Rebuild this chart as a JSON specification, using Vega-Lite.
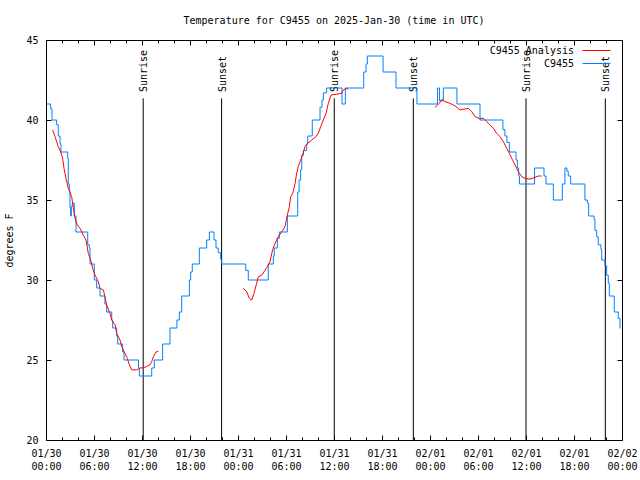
{
  "$schema": "https://vega.github.io/schema/vega-lite/v6.json",
  "width": 576,
  "height": 400,
  "autosize": {"type": "none"},
  "padding": {"left": 46, "top": 40, "right": 18, "bottom": 40},
  "background": "white",
  "title": {"text": "Temperature for C9455 on 2025-Jan-30 (time in UTC)", "font": "DejaVu Sans Mono", "fontSize": 10, "fontWeight": "normal", "color": "black", "anchor": "middle", "frame": "group", "offset": 9},
  "datasets": {
    "obs": [
      {"t": "2025-01-30T00:07:00Z", "temp": 41},
      {"t": "2025-01-30T00:35:00Z", "temp": 40.7},
      {"t": "2025-01-30T00:45:00Z", "temp": 40},
      {"t": "2025-01-30T01:20:00Z", "temp": 39.7},
      {"t": "2025-01-30T01:32:00Z", "temp": 39},
      {"t": "2025-01-30T01:45:00Z", "temp": 38.5},
      {"t": "2025-01-30T01:52:00Z", "temp": 38},
      {"t": "2025-01-30T02:43:00Z", "temp": 37.6},
      {"t": "2025-01-30T02:47:00Z", "temp": 36},
      {"t": "2025-01-30T02:55:00Z", "temp": 35.6},
      {"t": "2025-01-30T03:00:00Z", "temp": 34.5},
      {"t": "2025-01-30T03:05:00Z", "temp": 34},
      {"t": "2025-01-30T03:10:00Z", "temp": 34.6},
      {"t": "2025-01-30T03:17:00Z", "temp": 34.8},
      {"t": "2025-01-30T03:32:00Z", "temp": 34},
      {"t": "2025-01-30T03:45:00Z", "temp": 33},
      {"t": "2025-01-30T05:13:00Z", "temp": 32.2},
      {"t": "2025-01-30T05:25:00Z", "temp": 32},
      {"t": "2025-01-30T05:30:00Z", "temp": 31},
      {"t": "2025-01-30T06:02:00Z", "temp": 30},
      {"t": "2025-01-30T06:20:00Z", "temp": 29.5},
      {"t": "2025-01-30T06:45:00Z", "temp": 29},
      {"t": "2025-01-30T07:22:00Z", "temp": 28.5},
      {"t": "2025-01-30T07:35:00Z", "temp": 28},
      {"t": "2025-01-30T08:13:00Z", "temp": 27.5},
      {"t": "2025-01-30T08:20:00Z", "temp": 27},
      {"t": "2025-01-30T08:50:00Z", "temp": 26.5},
      {"t": "2025-01-30T08:58:00Z", "temp": 26},
      {"t": "2025-01-30T09:35:00Z", "temp": 25.5},
      {"t": "2025-01-30T09:45:00Z", "temp": 25},
      {"t": "2025-01-30T11:34:00Z", "temp": 24.5},
      {"t": "2025-01-30T11:40:00Z", "temp": 24},
      {"t": "2025-01-30T13:13:00Z", "temp": 24.5},
      {"t": "2025-01-30T13:32:00Z", "temp": 25},
      {"t": "2025-01-30T14:35:00Z", "temp": 26},
      {"t": "2025-01-30T15:30:00Z", "temp": 27},
      {"t": "2025-01-30T16:22:00Z", "temp": 27.5},
      {"t": "2025-01-30T16:40:00Z", "temp": 28},
      {"t": "2025-01-30T16:58:00Z", "temp": 29},
      {"t": "2025-01-30T17:55:00Z", "temp": 30},
      {"t": "2025-01-30T18:05:00Z", "temp": 30.5},
      {"t": "2025-01-30T18:17:00Z", "temp": 31},
      {"t": "2025-01-30T19:10:00Z", "temp": 32},
      {"t": "2025-01-30T20:05:00Z", "temp": 32.5},
      {"t": "2025-01-30T20:25:00Z", "temp": 33},
      {"t": "2025-01-30T21:00:00Z", "temp": 32.5},
      {"t": "2025-01-30T21:15:00Z", "temp": 32},
      {"t": "2025-01-30T21:32:00Z", "temp": 31.7},
      {"t": "2025-01-30T21:50:00Z", "temp": 31.3},
      {"t": "2025-01-30T21:58:00Z", "temp": 31},
      {"t": "2025-01-31T00:58:00Z", "temp": 30.6},
      {"t": "2025-01-31T01:17:00Z", "temp": 30},
      {"t": "2025-01-31T03:47:00Z", "temp": 31},
      {"t": "2025-01-31T04:25:00Z", "temp": 31.5},
      {"t": "2025-01-31T04:32:00Z", "temp": 32},
      {"t": "2025-01-31T04:55:00Z", "temp": 32.6},
      {"t": "2025-01-31T05:10:00Z", "temp": 33},
      {"t": "2025-01-31T06:10:00Z", "temp": 34},
      {"t": "2025-01-31T07:28:00Z", "temp": 35.5},
      {"t": "2025-01-31T07:38:00Z", "temp": 36.25},
      {"t": "2025-01-31T07:50:00Z", "temp": 36.9},
      {"t": "2025-01-31T07:58:00Z", "temp": 37.8},
      {"t": "2025-01-31T08:10:00Z", "temp": 38.1},
      {"t": "2025-01-31T08:35:00Z", "temp": 38.5},
      {"t": "2025-01-31T08:43:00Z", "temp": 39},
      {"t": "2025-01-31T09:17:00Z", "temp": 40},
      {"t": "2025-01-31T10:15:00Z", "temp": 40.8},
      {"t": "2025-01-31T10:30:00Z", "temp": 41.25},
      {"t": "2025-01-31T10:40:00Z", "temp": 41.7},
      {"t": "2025-01-31T11:05:00Z", "temp": 42},
      {"t": "2025-01-31T13:00:00Z", "temp": 41},
      {"t": "2025-01-31T13:25:00Z", "temp": 42},
      {"t": "2025-01-31T15:43:00Z", "temp": 43},
      {"t": "2025-01-31T16:00:00Z", "temp": 43.5},
      {"t": "2025-01-31T16:10:00Z", "temp": 44},
      {"t": "2025-01-31T18:08:00Z", "temp": 43},
      {"t": "2025-01-31T19:45:00Z", "temp": 42},
      {"t": "2025-01-31T22:22:00Z", "temp": 41},
      {"t": "2025-02-01T00:56:00Z", "temp": 42},
      {"t": "2025-02-01T01:11:00Z", "temp": 41.2},
      {"t": "2025-02-01T01:40:00Z", "temp": 42},
      {"t": "2025-02-01T03:22:00Z", "temp": 41},
      {"t": "2025-02-01T06:15:00Z", "temp": 40},
      {"t": "2025-02-01T09:07:00Z", "temp": 39.4},
      {"t": "2025-02-01T09:22:00Z", "temp": 39},
      {"t": "2025-02-01T09:37:00Z", "temp": 38.6},
      {"t": "2025-02-01T09:55:00Z", "temp": 38},
      {"t": "2025-02-01T10:45:00Z", "temp": 37.5},
      {"t": "2025-02-01T10:55:00Z", "temp": 37},
      {"t": "2025-02-01T11:05:00Z", "temp": 36.5},
      {"t": "2025-02-01T11:11:00Z", "temp": 36},
      {"t": "2025-02-01T13:04:00Z", "temp": 37},
      {"t": "2025-02-01T14:15:00Z", "temp": 36.5},
      {"t": "2025-02-01T14:30:00Z", "temp": 36},
      {"t": "2025-02-01T15:25:00Z", "temp": 35},
      {"t": "2025-02-01T16:32:00Z", "temp": 36},
      {"t": "2025-02-01T16:52:00Z", "temp": 37},
      {"t": "2025-02-01T17:07:00Z", "temp": 36.8},
      {"t": "2025-02-01T17:17:00Z", "temp": 36.5},
      {"t": "2025-02-01T17:35:00Z", "temp": 36},
      {"t": "2025-02-01T19:22:00Z", "temp": 35},
      {"t": "2025-02-01T19:40:00Z", "temp": 34.8},
      {"t": "2025-02-01T19:50:00Z", "temp": 34},
      {"t": "2025-02-01T20:30:00Z", "temp": 33.8},
      {"t": "2025-02-01T20:37:00Z", "temp": 33.1},
      {"t": "2025-02-01T20:50:00Z", "temp": 32.7},
      {"t": "2025-02-01T21:02:00Z", "temp": 32.2},
      {"t": "2025-02-01T21:22:00Z", "temp": 31.9},
      {"t": "2025-02-01T21:28:00Z", "temp": 31.25},
      {"t": "2025-02-01T21:52:00Z", "temp": 30.9},
      {"t": "2025-02-01T22:05:00Z", "temp": 30.3},
      {"t": "2025-02-01T22:17:00Z", "temp": 29.8},
      {"t": "2025-02-01T22:25:00Z", "temp": 29},
      {"t": "2025-02-01T23:02:00Z", "temp": 28},
      {"t": "2025-02-01T23:32:00Z", "temp": 27.6},
      {"t": "2025-02-01T23:45:00Z", "temp": 27},
      {"t": "2025-02-01T23:52:00Z", "temp": 27}
    ],
    "analysis": [
      {"seg": 1, "t": "2025-01-30T00:50:00Z", "temp": 39.38},
      {"seg": 1, "t": "2025-01-30T01:08:00Z", "temp": 38.96},
      {"seg": 1, "t": "2025-01-30T01:32:00Z", "temp": 38.33},
      {"seg": 1, "t": "2025-01-30T01:50:00Z", "temp": 38.0},
      {"seg": 1, "t": "2025-01-30T02:05:00Z", "temp": 37.6},
      {"seg": 1, "t": "2025-01-30T02:15:00Z", "temp": 36.98},
      {"seg": 1, "t": "2025-01-30T02:30:00Z", "temp": 36.35},
      {"seg": 1, "t": "2025-01-30T02:47:00Z", "temp": 35.73},
      {"seg": 1, "t": "2025-01-30T03:13:00Z", "temp": 35.2},
      {"seg": 1, "t": "2025-01-30T03:20:00Z", "temp": 34.8},
      {"seg": 1, "t": "2025-01-30T03:38:00Z", "temp": 33.85},
      {"seg": 1, "t": "2025-01-30T03:55:00Z", "temp": 33.44},
      {"seg": 1, "t": "2025-01-30T04:15:00Z", "temp": 33.23},
      {"seg": 1, "t": "2025-01-30T04:40:00Z", "temp": 32.8},
      {"seg": 1, "t": "2025-01-30T05:00:00Z", "temp": 32.5},
      {"seg": 1, "t": "2025-01-30T05:17:00Z", "temp": 31.67},
      {"seg": 1, "t": "2025-01-30T05:35:00Z", "temp": 31.25},
      {"seg": 1, "t": "2025-01-30T05:50:00Z", "temp": 30.73},
      {"seg": 1, "t": "2025-01-30T06:08:00Z", "temp": 30.3},
      {"seg": 1, "t": "2025-01-30T06:32:00Z", "temp": 29.9},
      {"seg": 1, "t": "2025-01-30T06:45:00Z", "temp": 29.48},
      {"seg": 1, "t": "2025-01-30T07:10:00Z", "temp": 29.38},
      {"seg": 1, "t": "2025-01-30T07:22:00Z", "temp": 28.96},
      {"seg": 1, "t": "2025-01-30T07:35:00Z", "temp": 28.44},
      {"seg": 1, "t": "2025-01-30T08:00:00Z", "temp": 27.9},
      {"seg": 1, "t": "2025-01-30T08:13:00Z", "temp": 27.5},
      {"seg": 1, "t": "2025-01-30T08:38:00Z", "temp": 27.2},
      {"seg": 1, "t": "2025-01-30T08:50:00Z", "temp": 26.67},
      {"seg": 1, "t": "2025-01-30T09:15:00Z", "temp": 26.25},
      {"seg": 1, "t": "2025-01-30T09:28:00Z", "temp": 25.83},
      {"seg": 1, "t": "2025-01-30T09:52:00Z", "temp": 25.42},
      {"seg": 1, "t": "2025-01-30T10:10:00Z", "temp": 25.1},
      {"seg": 1, "t": "2025-01-30T10:25:00Z", "temp": 24.7},
      {"seg": 1, "t": "2025-01-30T10:43:00Z", "temp": 24.38},
      {"seg": 1, "t": "2025-01-30T11:20:00Z", "temp": 24.38},
      {"seg": 1, "t": "2025-01-30T11:45:00Z", "temp": 24.5},
      {"seg": 1, "t": "2025-01-30T12:15:00Z", "temp": 24.52},
      {"seg": 1, "t": "2025-01-30T12:35:00Z", "temp": 24.6},
      {"seg": 1, "t": "2025-01-30T13:00:00Z", "temp": 24.7},
      {"seg": 1, "t": "2025-01-30T13:13:00Z", "temp": 24.9},
      {"seg": 1, "t": "2025-01-30T13:25:00Z", "temp": 25.2},
      {"seg": 1, "t": "2025-01-30T13:45:00Z", "temp": 25.5},
      {"seg": 1, "t": "2025-01-30T14:02:00Z", "temp": 25.55},
      {"seg": 2, "t": "2025-01-31T00:40:00Z", "temp": 29.48},
      {"seg": 2, "t": "2025-01-31T01:05:00Z", "temp": 29.27},
      {"seg": 2, "t": "2025-01-31T01:25:00Z", "temp": 28.85},
      {"seg": 2, "t": "2025-01-31T01:43:00Z", "temp": 28.75},
      {"seg": 2, "t": "2025-01-31T02:00:00Z", "temp": 29.17},
      {"seg": 2, "t": "2025-01-31T02:20:00Z", "temp": 29.8},
      {"seg": 2, "t": "2025-01-31T02:32:00Z", "temp": 30.2},
      {"seg": 2, "t": "2025-01-31T02:58:00Z", "temp": 30.3},
      {"seg": 2, "t": "2025-01-31T03:22:00Z", "temp": 30.6},
      {"seg": 2, "t": "2025-01-31T03:40:00Z", "temp": 30.83},
      {"seg": 2, "t": "2025-01-31T04:00:00Z", "temp": 31.15},
      {"seg": 2, "t": "2025-01-31T04:20:00Z", "temp": 31.9},
      {"seg": 2, "t": "2025-01-31T04:38:00Z", "temp": 32.3},
      {"seg": 2, "t": "2025-01-31T05:02:00Z", "temp": 32.7},
      {"seg": 2, "t": "2025-01-31T05:35:00Z", "temp": 33.1},
      {"seg": 2, "t": "2025-01-31T05:52:00Z", "temp": 33.33},
      {"seg": 2, "t": "2025-01-31T06:10:00Z", "temp": 34.06},
      {"seg": 2, "t": "2025-01-31T06:25:00Z", "temp": 34.58},
      {"seg": 2, "t": "2025-01-31T06:35:00Z", "temp": 35.2},
      {"seg": 2, "t": "2025-01-31T06:50:00Z", "temp": 35.4},
      {"seg": 2, "t": "2025-01-31T07:08:00Z", "temp": 36.04},
      {"seg": 2, "t": "2025-01-31T07:20:00Z", "temp": 36.67},
      {"seg": 2, "t": "2025-01-31T07:32:00Z", "temp": 37.08},
      {"seg": 2, "t": "2025-01-31T07:45:00Z", "temp": 37.4},
      {"seg": 2, "t": "2025-01-31T08:05:00Z", "temp": 37.8},
      {"seg": 2, "t": "2025-01-31T08:22:00Z", "temp": 38.33},
      {"seg": 2, "t": "2025-01-31T08:40:00Z", "temp": 38.54},
      {"seg": 2, "t": "2025-01-31T09:13:00Z", "temp": 38.75},
      {"seg": 2, "t": "2025-01-31T09:45:00Z", "temp": 38.96},
      {"seg": 2, "t": "2025-01-31T10:02:00Z", "temp": 39.17},
      {"seg": 2, "t": "2025-01-31T10:20:00Z", "temp": 39.58},
      {"seg": 2, "t": "2025-01-31T10:40:00Z", "temp": 40.0},
      {"seg": 2, "t": "2025-01-31T11:00:00Z", "temp": 40.4},
      {"seg": 2, "t": "2025-01-31T11:17:00Z", "temp": 41.04},
      {"seg": 2, "t": "2025-01-31T11:38:00Z", "temp": 41.56},
      {"seg": 2, "t": "2025-01-31T12:58:00Z", "temp": 41.67},
      {"seg": 2, "t": "2025-01-31T13:10:00Z", "temp": 41.88},
      {"seg": 2, "t": "2025-01-31T13:35:00Z", "temp": 41.98},
      {"seg": 2, "t": "2025-01-31T13:47:00Z", "temp": 41.9},
      {"seg": 3, "t": "2025-02-01T00:38:00Z", "temp": 40.79},
      {"seg": 3, "t": "2025-02-01T01:10:00Z", "temp": 41.04},
      {"seg": 3, "t": "2025-02-01T01:28:00Z", "temp": 41.29},
      {"seg": 3, "t": "2025-02-01T01:52:00Z", "temp": 41.15},
      {"seg": 3, "t": "2025-02-01T02:30:00Z", "temp": 41.04},
      {"seg": 3, "t": "2025-02-01T03:08:00Z", "temp": 40.88},
      {"seg": 3, "t": "2025-02-01T03:45:00Z", "temp": 40.63},
      {"seg": 3, "t": "2025-02-01T04:10:00Z", "temp": 40.67},
      {"seg": 3, "t": "2025-02-01T04:47:00Z", "temp": 40.73},
      {"seg": 3, "t": "2025-02-01T05:13:00Z", "temp": 40.52},
      {"seg": 3, "t": "2025-02-01T05:38:00Z", "temp": 40.21},
      {"seg": 3, "t": "2025-02-01T06:10:00Z", "temp": 40.1},
      {"seg": 3, "t": "2025-02-01T06:40:00Z", "temp": 40.1},
      {"seg": 3, "t": "2025-02-01T07:05:00Z", "temp": 39.9},
      {"seg": 3, "t": "2025-02-01T07:30:00Z", "temp": 39.69},
      {"seg": 3, "t": "2025-02-01T07:55:00Z", "temp": 39.48},
      {"seg": 3, "t": "2025-02-01T08:20:00Z", "temp": 39.17},
      {"seg": 3, "t": "2025-02-01T08:45:00Z", "temp": 38.96},
      {"seg": 3, "t": "2025-02-01T09:10:00Z", "temp": 38.65},
      {"seg": 3, "t": "2025-02-01T09:35:00Z", "temp": 38.23},
      {"seg": 3, "t": "2025-02-01T09:55:00Z", "temp": 37.92},
      {"seg": 3, "t": "2025-02-01T10:13:00Z", "temp": 37.6},
      {"seg": 3, "t": "2025-02-01T10:38:00Z", "temp": 37.19},
      {"seg": 3, "t": "2025-02-01T11:02:00Z", "temp": 36.77},
      {"seg": 3, "t": "2025-02-01T11:28:00Z", "temp": 36.46},
      {"seg": 3, "t": "2025-02-01T11:52:00Z", "temp": 36.35},
      {"seg": 3, "t": "2025-02-01T12:30:00Z", "temp": 36.3},
      {"seg": 3, "t": "2025-02-01T13:08:00Z", "temp": 36.42},
      {"seg": 3, "t": "2025-02-01T13:32:00Z", "temp": 36.5},
      {"seg": 3, "t": "2025-02-01T13:58:00Z", "temp": 36.5}
    ],
    "sun": [
      {"t": "2025-01-30T12:09:00Z", "event": "Sunrise"},
      {"t": "2025-01-30T21:57:00Z", "event": "Sunset"},
      {"t": "2025-01-31T12:02:00Z", "event": "Sunrise"},
      {"t": "2025-01-31T21:55:00Z", "event": "Sunset"},
      {"t": "2025-02-01T12:00:00Z", "event": "Sunrise"},
      {"t": "2025-02-01T21:55:00Z", "event": "Sunset"}
    ]
  },
  "resolve": {"axis": {"x": "independent", "y": "independent"}},
  "layer": [
    {
      "data": {"name": "sun"},
      "mark": {"type": "rule", "color": "black", "strokeWidth": 1},
      "encoding": {
        "x": {"field": "t", "type": "temporal", "title": null, "scale": {"type": "utc", "domain": [1738195200000, 1738454400000]},
          "axis": {"orient": "bottom", "values": [1738202400000, 1738209600000, 1738224000000, 1738231200000, 1738245600000, 1738252800000, 1738267200000, 1738274400000, 1738288800000, 1738296000000, 1738310400000, 1738317600000, 1738332000000, 1738339200000, 1738353600000, 1738360800000, 1738375200000, 1738382400000, 1738396800000, 1738404000000, 1738418400000, 1738425600000, 1738440000000, 1738447200000], "labels": false, "domain": false, "tickSize": -3}},
        "y": {"datum": 20, "type": "quantitative", "scale": {"domain": [20, 45], "nice": false, "zero": false}, "axis": null},
        "y2": {"datum": 41.35}
      }
    },
    {
      "data": {"name": "sun"},
      "mark": {"type": "text", "angle": 270, "align": "left", "baseline": "middle", "font": "DejaVu Sans Mono", "fontSize": 10, "color": "black", "dy": 1},
      "encoding": {
        "x": {"field": "t", "type": "temporal", "title": null, "scale": {"type": "utc", "domain": [1738195200000, 1738454400000]},
          "axis": {"orient": "top", "values": [1738202400000, 1738209600000, 1738224000000, 1738231200000, 1738245600000, 1738252800000, 1738267200000, 1738274400000, 1738288800000, 1738296000000, 1738310400000, 1738317600000, 1738332000000, 1738339200000, 1738353600000, 1738360800000, 1738375200000, 1738382400000, 1738396800000, 1738404000000, 1738418400000, 1738425600000, 1738440000000, 1738447200000], "labels": false, "domain": false, "tickSize": -3}},
        "y": {"datum": 41.75, "type": "quantitative", "scale": {"domain": [20, 45], "nice": false, "zero": false}, "axis": null},
        "text": {"field": "event"}
      }
    },
    {
      "data": {"name": "obs"},
      "mark": {"type": "line", "interpolate": "step-after", "strokeWidth": 1},
      "encoding": {
        "x": {"field": "t", "type": "temporal", "title": null,
          "scale": {"type": "utc", "domain": [1738195200000, 1738454400000]},
          "axis": {"orient": "bottom", "tickCount": 12, "tickSize": -5,
            "labelExpr": "[utcFormat(datum.value, '%m/%d'), utcFormat(datum.value, '%H:%M')]",
            "labelOverlap": false, "labelFlush": false, "labelBound": false, "labelPadding": 13, "labelLineHeight": 13, "labelAlign": "center", "labelBaseline": "top"}},
        "y": {"field": "temp", "type": "quantitative", "title": "degrees F",
          "scale": {"domain": [20, 45], "nice": false, "zero": false},
          "axis": {"orient": "left", "values": [20, 25, 30, 35, 40, 45], "tickSize": -5, "labelPadding": 13, "titlePadding": 11}},
        "color": {"datum": "C9455", "type": "nominal",
          "scale": {"domain": ["C9455 Analysis", "C9455"], "range": ["#ff0000", "#0080ff"]},
          "legend": {"orient": "none", "legendX": 543, "legendY": 3, "title": null, "symbolType": "M-2,0H2", "symbolSize": 196, "symbolStrokeWidth": 1, "symbolOffset": 0, "labelAlign": "right", "labelOffset": -30, "labelFont": "DejaVu Sans Mono", "labelFontSize": 10, "labelColor": "black", "rowPadding": 0, "padding": 0}}
      }
    },
    {
      "data": {"name": "analysis"},
      "mark": {"type": "line", "strokeWidth": 1},
      "encoding": {
        "x": {"field": "t", "type": "temporal", "title": null, "scale": {"type": "utc", "domain": [1738195200000, 1738454400000]},
          "axis": {"orient": "top", "tickCount": 12, "tickSize": -5, "labels": false, "domain": false}},
        "y": {"field": "temp", "type": "quantitative", "title": null, "scale": {"domain": [20, 45], "nice": false, "zero": false},
          "axis": {"orient": "right", "values": [20, 25, 30, 35, 40, 45], "tickSize": -5, "labels": false, "domain": false}},
        "detail": {"field": "seg", "type": "nominal"},
        "color": {"datum": "C9455 Analysis", "type": "nominal"}
      }
    }
  ],
  "config": {
    "view": {"stroke": "black"},
    "axis": {"grid": false, "domain": false, "tickColor": "black", "tickWidth": 1, "labelColor": "black", "labelFont": "DejaVu Sans Mono", "labelFontSize": 10, "titleFont": "DejaVu Sans Mono", "titleFontSize": 10, "titleFontWeight": "normal", "titleColor": "black"}
  }
}
